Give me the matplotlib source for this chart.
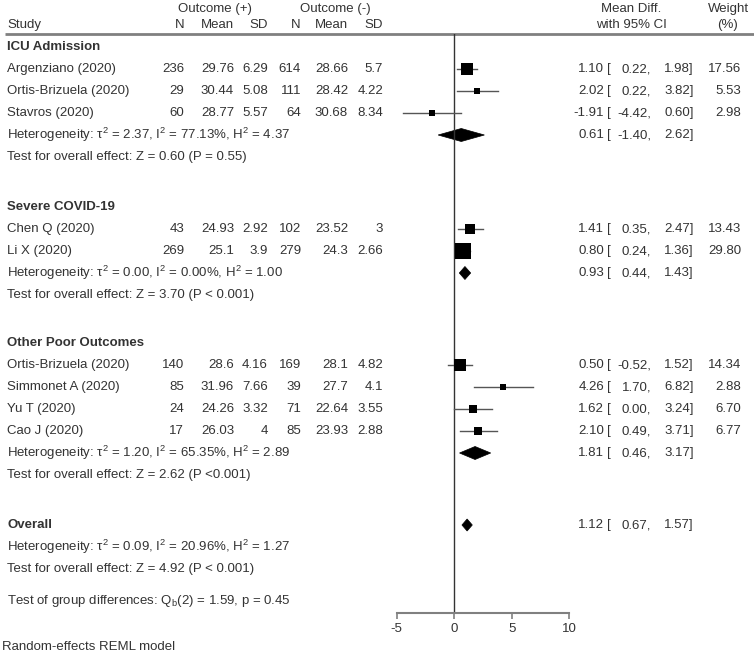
import numpy as np
import matplotlib
matplotlib.use("Agg")
import matplotlib.pyplot as plt
from matplotlib.patches import Polygon

plt.rcParams["font.family"] = ["Liberation Sans", "DejaVu Sans"]
plt.rcParams["mathtext.fontset"] = "custom"
plt.rcParams["mathtext.rm"] = "Liberation Sans"
plt.rcParams["mathtext.it"] = "Liberation Sans"
plt.rcParams["axes.unicode_minus"] = False

# --- données ---
groupes = ["ICU Admission", "Severe COVID-19", "Other Poor Outcomes"]
etudes = ["Argenziano (2020)", "Ortis-Brizuela (2020)", "Stavros (2020)",
          "Chen Q (2020)", "Li X (2020)",
          "Ortis-Brizuela (2020)", "Simmonet A (2020)", "Yu T (2020)", "Cao J (2020)"]
groupe_etude = [0, 0, 0, 1, 1, 2, 2, 2, 2]
n_pos = [236, 29, 60, 43, 269, 140, 85, 24, 17]
moy_pos = [29.76, 30.44, 28.77, 24.93, 25.1, 28.6, 31.96, 24.26, 26.03]
et_pos = [6.29, 5.08, 5.57, 2.92, 3.9, 4.16, 7.66, 3.32, 4]
n_neg = [614, 111, 64, 102, 279, 169, 39, 71, 85]
moy_neg = [28.66, 28.42, 30.68, 23.52, 24.3, 28.1, 27.7, 22.64, 23.93]
et_neg = [5.7, 4.22, 8.34, 3, 2.66, 4.82, 4.1, 3.55, 2.88]
md = [1.10, 2.02, -1.91, 1.41, 0.80, 0.50, 4.26, 1.62, 2.10]
ic_bas = [0.22, 0.22, -4.42, 0.35, 0.24, -0.52, 1.70, 0.00, 0.49]
ic_haut = [1.98, 3.82, 0.60, 2.47, 1.36, 1.52, 6.82, 3.24, 3.71]
poids = [17.56, 5.53, 2.98, 13.43, 29.80, 14.34, 2.88, 6.70, 6.77]

# résumés par groupe + global (dernier élément)
res_md = [0.61, 0.93, 1.81, 1.12]
res_bas = [-1.40, 0.44, 0.46, 0.67]
res_haut = [2.62, 1.43, 3.17, 1.57]
tau2 = [2.37, 0.00, 1.20, 0.09]
i2 = [77.13, 0.00, 65.35, 20.96]
h2 = [4.37, 1.00, 2.89, 1.27]
z_val = [0.60, 3.70, 2.62, 4.92]
p_txt = ["P = 0.55", "P < 0.001", "P <0.001", "P < 0.001"]

# --- figure ---
W, H = 754, 656
fig = plt.figure(figsize=(W / 100, H / 100), dpi=100)
ax = fig.add_axes([0, 0, 1, 1])
ax.set_xlim(0, W)
ax.set_ylim(H, 0)
ax.axis("off")

# zone du forest plot (x en unités de l'effet, y en pixels)
x_m5, x_10 = 396.7, 569.3
y_haut, y_axe = 34, 613
axf = fig.add_axes([x_m5 / W, (H - y_axe) / H, (x_10 - x_m5) / W, (y_axe - y_haut) / H])
axf.set_xlim(-5, 10)
axf.set_ylim(y_axe, y_haut)
axf.patch.set_alpha(0)
for s in ["top", "left", "right"]:
    axf.spines[s].set_visible(False)
axf.spines["bottom"].set_color("#808080")
axf.spines["bottom"].set_linewidth(1.5)
axf.set_yticks([])
axf.set_xticks([-5, 0, 5, 10])
axf.tick_params(axis="x", direction="out", length=4, width=1.2, color="#808080",
                labelsize=9.5, labelcolor="#333333", pad=3)
axf.axvline(0, color="#333333", lw=1)

col = "#333333"
fs = 9.5

# en-tête
ax.text(215, 9, "Outcome (+)", ha="center", va="center", fontsize=fs, color=col)
ax.text(335, 9, "Outcome (-)", ha="center", va="center", fontsize=fs, color=col)
ax.text(7, 25, "Study", ha="left", va="center", fontsize=fs, color=col)
x_cols = [184, 234, 268, 301, 348, 383]
for x, lab in zip(x_cols, ["N", "Mean", "SD", "N", "Mean", "SD"]):
    ax.text(x, 25, lab, ha="right", va="center", fontsize=fs, color=col)
ax.text(631, 9, "Mean Diff.", ha="center", va="center", fontsize=fs, color=col)
ax.text(631, 25, "with 95% CI", ha="center", va="center", fontsize=fs, color=col)
ax.text(728, 9, "Weight", ha="center", va="center", fontsize=fs, color=col)
ax.text(728, 25, "(%)", ha="center", va="center", fontsize=fs, color=col)
ax.plot([5, W], [34, 34], color="#808080", lw=2, solid_capstyle="butt")


def ic_texte(y, m, lo, hi, w=None):
    ax.text(604, y, f"{m:.2f}", ha="right", va="center", fontsize=fs, color=col)
    ax.text(607, y, "[", ha="left", va="center", fontsize=fs, color=col)
    ax.text(651, y, f"{lo:.2f},", ha="right", va="center", fontsize=fs, color=col)
    ax.text(694, y, f"{hi:.2f}]", ha="right", va="center", fontsize=fs, color=col)
    if w is not None:
        ax.text(741, y, f"{w:.2f}", ha="right", va="center", fontsize=fs, color=col)


def losange(y, m, lo, hi, demi=6.5):
    axf.add_patch(Polygon([(lo, y), (m, y - demi), (hi, y), (m, y + demi)],
                          closed=True, facecolor="black", edgecolor="black", lw=0.5))


def resume(y, g):
    ax.text(7, y, f"Heterogeneity: τ$^2$ = {tau2[g]:.2f}, I$^2$ = {i2[g]:.2f}%, H$^2$ = {h2[g]:.2f}",
            ha="left", va="center", fontsize=fs, color=col)
    ax.text(7, y + 22, f"Test for overall effect: Z = {z_val[g]:.2f} ({p_txt[g]})",
            ha="left", va="center", fontsize=fs, color=col)


debuts = [47, 207, 343]
pas = 22
for g, nom in enumerate(groupes):
    y = debuts[g]
    ax.text(7, y, nom, ha="left", va="center", fontsize=fs, color=col, fontweight="bold")
    idx = [i for i in range(len(etudes)) if groupe_etude[i] == g]
    for i in idx:
        y += pas
        ax.text(7, y, etudes[i], ha="left", va="center", fontsize=fs, color=col)
        vals = [f"{n_pos[i]:g}", f"{moy_pos[i]:g}", f"{et_pos[i]:g}",
                f"{n_neg[i]:g}", f"{moy_neg[i]:g}", f"{et_neg[i]:g}"]
        for x, v in zip(x_cols, vals):
            ax.text(x, y, v, ha="right", va="center", fontsize=fs, color=col)
        axf.plot([ic_bas[i], ic_haut[i]], [y, y], color="#555555", lw=1)
        cote = 2.95 * np.sqrt(poids[i])
        axf.plot(md[i], y, marker="s", color="black", markersize=cote * 0.72,
                 markeredgewidth=0, linestyle="none")
        ic_texte(y, md[i], ic_bas[i], ic_haut[i], poids[i])
    y += pas
    losange(y, res_md[g], res_bas[g], res_haut[g])
    ic_texte(y, res_md[g], res_bas[g], res_haut[g])
    resume(y, g)

# global
y = 525
ax.text(7, y, "Overall", ha="left", va="center", fontsize=fs, color=col, fontweight="bold")
losange(y, res_md[3], res_bas[3], res_haut[3], demi=6)
ic_texte(y, res_md[3], res_bas[3], res_haut[3])
resume(y + pas, 3)
ax.text(7, 601, "Test of group differences: Q$_\\mathrm{b}$(2) = 1.59, p = 0.45",
        ha="left", va="center", fontsize=fs, color=col)
ax.text(2, 647, "Random-effects REML model", ha="left", va="center", fontsize=fs, color=col)

fig.savefig("out.png", dpi=100)
